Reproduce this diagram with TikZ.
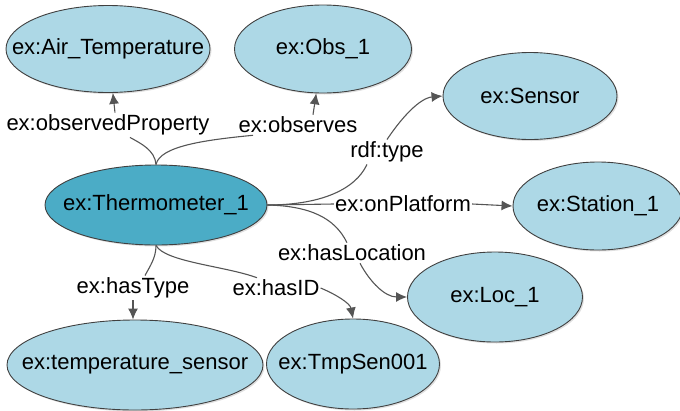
\documentclass[tikz,border=0pt]{standalone}
\usepackage{fontspec}
\setmainfont{Liberation Sans}
\usetikzlibrary{shapes.geometric,arrows.meta,shadows}

\definecolor{nodefill}{RGB}{173,216,230}
\definecolor{hubfill}{RGB}{75,172,198}
\definecolor{nodeline}{RGB}{64,64,64}
\definecolor{edgeline}{RGB}{85,85,85}

% the text is boxed at zero width so each ellipse takes exactly its given size
\newcommand{\restext}[1]{\makebox[0pt]{#1}}

\tikzset{
  resource/.style={ellipse, draw=nodeline, line width=0.9pt, fill=nodefill,
    inner sep=0pt, font=\fontsize{22}{26}\selectfont,
    drop shadow={opacity=0.25, shadow xshift=1.5pt, shadow yshift=-1.5pt}},
  hub/.style={resource, fill=hubfill},
  prop/.style={inner xsep=1pt, inner ysep=2pt, font=\fontsize{22}{26}\selectfont},
  link/.style={draw=edgeline, line width=1.1pt},
  arc/.style={link, -{Latex[length=11pt,width=10pt]}},
}

\begin{document}
\begin{tikzpicture}[x=1pt,y=-1pt]
\useasboundingbox (0,0) rectangle (680,410);

% resources
\node[hub, minimum width=222pt, minimum height=80pt] (thermo) at (156,205) {\restext{ex:Thermometer\_1}};
\node[resource, minimum width=204pt, minimum height=87pt] (air) at (108,49) {\restext{ex:Air\_Temperature}};
\node[resource, minimum width=177pt, minimum height=88pt] (obs) at (323,49) {\restext{ex:Obs\_1}};
\node[resource, minimum width=174pt, minimum height=87pt] (sensor) at (530,96) {\restext{ex:Sensor}};
\node[resource, minimum width=170pt, minimum height=88pt] (station) at (598,206) {\restext{ex:Station\_1}};
\node[resource, minimum width=175pt, minimum height=90pt] (loc) at (495,297) {\restext{ex:Loc\_1}};
\node[resource, minimum width=256pt, minimum height=90pt] (tsens) at (135,365) {\restext{ex:temperature\_sensor}};
\node[resource, minimum width=173pt, minimum height=90pt] (tmp) at (353,364) {\restext{ex:TmpSen001}};

% property labels
\node[prop] (op) at (108,125) {ex:observedProperty};
\node[prop] (obsl) at (298,125) {ex:observes};
\node[prop] (rdf) at (387,152) {rdf:type};
\node[prop] (onp) at (403,204) {ex:onPlatform};
\node[prop] (hl) at (352,253) {ex:hasLocation};
\node[prop] (ht) at (133,288) {ex:hasType};
\node[prop] (hid) at (276,288) {ex:hasID};

% ex:observedProperty
\draw[link] (thermo.north) .. controls (155,150) and (140,143) .. ([xshift=22pt]op.south);
\draw[arc] ([xshift=7pt]op.north) -- (air);

% ex:observes
\draw[link] (thermo.north) .. controls (160,146) and (205,140) .. ([xshift=-45pt]obsl.south);
\draw[arc] ([xshift=15pt]obsl.north) -- (obs);

% rdf:type
\draw[link] (thermo.east) .. controls (320,205) and (355,190) .. ([xshift=-20pt]rdf.south);
\draw[arc] (rdf.north) .. controls (402,117) and (420,98) .. (sensor.west);

% ex:onPlatform
\draw[link] (thermo.east) -- (onp.west);
\draw[arc] (onp.east) -- (station.west);

% ex:hasLocation
\draw[link] (thermo.east) .. controls (310,206) and (335,218) .. ([xshift=-5pt]hl.north);
\draw[arc] ([xshift=8pt]hl.south) .. controls (370,282) and (385,297) .. (loc.west);

% ex:hasType
\draw[link] (thermo.south) .. controls (156,258) and (150,266) .. ([xshift=12pt]ht.north);
\draw[arc] (ht.south) -- (ht.south |- tsens.north);

% ex:hasID
\draw[link] (thermo.south) .. controls (165,262) and (225,266) .. ([xshift=-19pt]hid.north);
\draw[arc] (hid.east) .. controls (335,294) and (350,303) .. (tmp.north);
\end{tikzpicture}
\end{document}
